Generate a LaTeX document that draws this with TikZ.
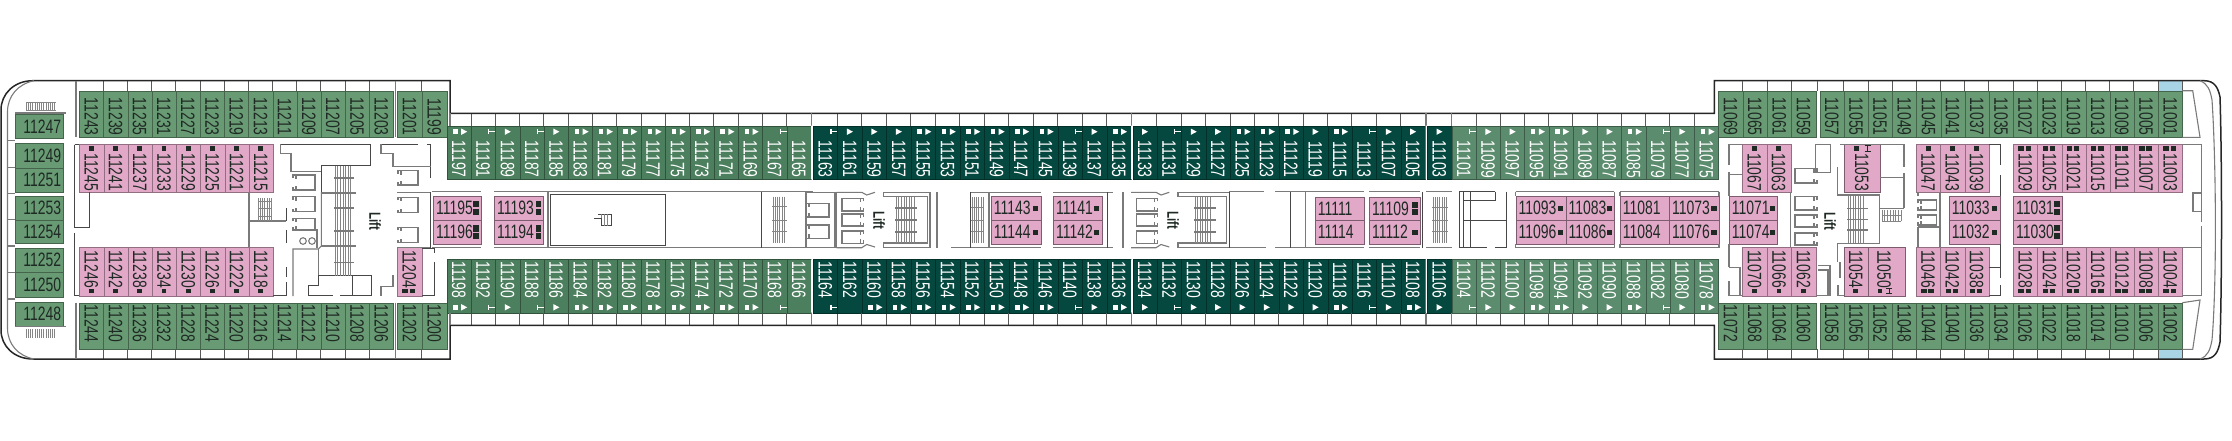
\documentclass[tikz,border=0pt]{standalone}
\usepackage{fontspec}
\setmainfont[FakeStretch=0.72]{Liberation Sans}
\definecolor{gA}{HTML}{689B74}
\definecolor{gB}{HTML}{4C7F5E}
\definecolor{gC}{HTML}{5C8C6E}
\definecolor{gD}{HTML}{04483F}
\definecolor{pk}{HTML}{E2A8C8}
\definecolor{bl}{HTML}{A9D4E6}
\definecolor{ink}{HTML}{1F2A24}
\tikzset{
 room/.style={draw=#1,line width=.45pt,inner sep=0pt,rectangle,anchor=north west},
 lab/.style={inner sep=0pt,font=\fontsize{9.7}{10}\selectfont},
 lift/.style={inner sep=0pt,font=\fontsize{8}{9}\selectfont\bfseries,text=ink,rotate=-90},
 wall/.style={draw=black!52,line width=.55pt},
 wallk/.style={draw=black!72,line width=.4pt},
 tick/.style={draw=black!65,line width=.45pt},
 hull/.style={draw=black!85,line width=.75pt},
 thin stair/.style={draw=black!48,line width=.3pt},
}
% row geometry: y top, y bottom, label y, symbol y, balcony tick from, to
\newcommand\setY[6]{\def\ya{#1}\def\yb{#2}\def\ly{#3}\def\sy{#4}\def\tya{#5}\def\tyb{#6}}
\newcommand\roomrow[5]{%
 \foreach \lab/\code [count=\n from 0] in {#5}{%
  \pgfmathsetmacro\xa{#1+\n*#2}\pgfmathsetmacro\xb{\xa+#2}\pgfmathsetmacro\xc{\xa+#2/2}%
  \pgfmathsetmacro\wpt{#2*0.5}\pgfmathsetmacro\hpt{(\yb-\ya)*0.5}%
  \ifnum\n>0\draw[tick] (\xa,\tya)--(\xa,\tyb);\fi
  \node[room=#3!65!black,fill=#3,minimum width=\wpt pt,minimum height=\hpt pt] (r\lab) at (\xa,\ya) {};
  \node[lab,rotate=-90,text=#4] (t\lab) at (\xc,\ly) {\lab};
  \if\code s%
   \fill[white] (\xa+6.5,\sy-2.4) rectangle (\xa+11,\sy+2.4);
   \fill[white] (\xa+14.5,\sy-3.2)--(\xa+20.5,\sy)--(\xa+14.5,\sy+3.2)--cycle;
  \fi
  \if\code t%
   \fill[white] (\xa+9.5,\sy-3.2)--(\xa+15.5,\sy)--(\xa+9.5,\sy+3.2)--cycle;
  \fi
  \if\code c%
   \draw[white,line width=.55pt] (\xb-6.5,\sy)--(\xb+6,\sy) (\xb-6.5,\sy-2.4)--(\xb-6.5,\sy+2.4) (\xb+6,\sy-2.4)--(\xb+6,\sy+2.4);
  \fi
  \if\code p%
   \fill[ink] (\xc-2.4,\sy-2.4) rectangle (\xc+2.4,\sy+2.4);
  \fi
  \if\code q%
   \fill[ink] (\xc-6.9,\sy-2.4) rectangle (\xc-1.4,\sy+2.4);
   \fill[ink] (\xc+0.3,\sy-2.4) rectangle (\xc+5.8,\sy+2.4);
  \fi
 }}
% horizontal room: name, x0, x1, y0, y1, square type
\newcommand\hroom[6]{%
 \pgfmathsetmacro\wpt{(#3-#2)*0.5}\pgfmathsetmacro\hpt{(#5-#4)*0.5}%
 \node[room=pk!55!black,fill=pk,minimum width=\wpt pt,minimum height=\hpt pt] (r#1) at (#2,#4) {};
 \node[lab,text=ink,anchor=west] (t#1) at (#2+2.4,{(#4+#5)/2}) {#1};
 \if#61\fill[ink] (#3-7.6,{(#4+#5)/2-2.5}) rectangle (#3-2.4,{(#4+#5)/2+2.5});\fi
 \if#62\fill[ink] (#3-7.6,{(#4+#5)/2-6.8}) rectangle (#3-2,{(#4+#5)/2-0.6});
  \fill[ink] (#3-7.6,{(#4+#5)/2+0.6}) rectangle (#3-2,{(#4+#5)/2+6.8});\fi
}
% left column room
\newcommand\lroom[3]{%
 \pgfmathsetmacro\hpt{(#3-#2)*0.5}%
 \node[room=gA!65!black,fill=gA,minimum width=24pt,minimum height=\hpt pt] (r#1) at (15.3,#2) {};
 \node[lab,text=ink,anchor=west] (t#1) at (23,{(#2+#3)/2}) {#1};
}
\newcommand\stair[5]{% x0 x1 y0 y1 step
 \pgfmathsetmacro\nn{int((#2-#1)/#5)}%
 \foreach \k in {0,...,\nn}{\draw[thin stair] ({#1+\k*#5},#3)--({#1+\k*#5},#4);}
}
% lift cell: open x, closed x, y0, y1
\newcommand\cell[4]{\pgfmathsetmacro\dd{#1<#2?3:-3}\draw[wall] (#1,#3+3)--(#1,#3)--(#2,#3)--(#2,#4)--(#1,#4)--(#1,#4-3);\draw[wall] (#1+\dd,#3)--(#1+\dd,#3+4) (#1+\dd,#4)--(#1+\dd,#4-4);}
\begin{document}
\begin{tikzpicture}[x=0.5pt,y=-0.5pt]
\useasboundingbox (0,0) rectangle (2232,440);
\fill[white] (0,0) rectangle (2232,440);

% blue balcony ends
\fill[bl] (2158.3,80.7) rectangle (2182.3,90.7);
\fill[bl] (2158.3,349.3) rectangle (2182.3,359);

% ---------- aft and forward outer cabins (top)
\setY{90.7}{137.3}{116.8}{0}{80.7}{90.7}
\roomrow{79.3}{24.15}{gA}{ink}{11243/n,11239/n,11235/n,11231/n,11227/n,11223/n,11219/n,11213/n,11211/n,11209/n,11207/n,11205/n,11203/n}
\roomrow{397}{24.85}{gA}{ink}{11201/n,11199/n}
\roomrow{1718.3}{24.35}{gA}{ink}{11069/n,11065/n,11061/n,11059/n}
\roomrow{1819.7}{24.17}{gA}{ink}{11057/n,11055/n,11051/n,11049/n,11045/n,11041/n,11037/n,11035/n,11027/n,11023/n,11019/n,11013/n,11009/n,11005/n,11001/n}
% ---------- bottom
\setY{302.7}{349.3}{323.5}{0}{349.3}{359}
\roomrow{79.3}{24.15}{gA}{ink}{11244/n,11240/n,11236/n,11232/n,11228/n,11224/n,11220/n,11216/n,11214/n,11212/n,11210/n,11208/n,11206/n}
\roomrow{397}{24.85}{gA}{ink}{11202/n,11200/n}
\roomrow{1718.3}{24.35}{gA}{ink}{11072/n,11068/n,11064/n,11060/n}
\roomrow{1819.7}{24.17}{gA}{ink}{11058/n,11056/n,11052/n,11048/n,11044/n,11040/n,11036/n,11034/n,11026/n,11022/n,11018/n,11014/n,11010/n,11006/n,11002/n}

% ---------- mid section, top
\setY{125.7}{179.3}{159.2}{131.7}{113.3}{125.7}
\roomrow{446.7}{24.29}{gB}{white}{11197/s,11191/c,11189/t,11187/c,11185/t,11183/s,11181/s,11179/s,11177/s,11175/s,11173/s,11171/s,11169/s,11167/c,11165/n}
\roomrow{813}{24.46}{gD}{white}{11163/c,11161/t,11159/t,11157/t,11155/s,11153/s,11151/s,11149/s,11147/s,11145/s,11139/c,11137/t,11135/s}
\roomrow{1132.5}{24.38}{gD}{white}{11133/t,11131/c,11129/t,11127/t,11125/s,11123/s,11121/s,11119/t,11115/s,11113/c,11107/t,11105/t}
\roomrow{1427}{24.7}{gD}{white}{11103/t}
\roomrow{1451.7}{24.24}{gC}{white}{11101/c,11099/t,11097/t,11095/s,11091/s,11089/t,11087/t,11085/s,11079/c,11077/t,11075/s}
% ---------- mid section, bottom
\setY{259.3}{312.7}{280}{307.3}{312.7}{325.3}
\roomrow{446.7}{24.29}{gB}{white}{11198/s,11192/c,11190/t,11188/c,11186/t,11184/s,11182/s,11180/s,11178/s,11176/s,11174/s,11172/s,11170/s,11168/c,11166/n}
\roomrow{813}{24.46}{gD}{white}{11164/c,11162/n,11160/s,11158/s,11156/s,11154/s,11152/s,11150/s,11148/s,11146/s,11140/c,11138/t,11136/s}
\roomrow{1132.5}{24.38}{gD}{white}{11134/t,11132/c,11130/t,11128/t,11126/t,11124/t,11122/t,11120/t,11118/s,11116/c,11110/t,11108/s}
\roomrow{1427}{24.7}{gD}{white}{11106/t}
\roomrow{1451.7}{24.24}{gC}{white}{11104/c,11102/t,11100/t,11098/s,11094/s,11092/t,11090/t,11088/s,11082/c,11080/t,11078/s}

% ---------- vertical pink rooms, top
\setY{144.3}{192.3}{172.3}{148.3}{0}{0}
\roomrow{79.3}{24.2}{pk}{ink}{11245/p,11241/p,11237/p,11233/p,11229/p,11225/p,11221/p,11215/p}
\roomrow{1742.3}{24.2}{pk}{ink}{11067/p,11063/p}
\roomrow{1916}{24.25}{pk}{ink}{11047/p,11043/p,11039/p}
\roomrow{2013.3}{24.14}{pk}{ink}{11029/q,11025/q,11021/q,11015/q,11011/q,11007/q,11003/q}
% ---------- vertical pink rooms, bottom
\setY{247.3}{295.7}{269}{291}{0}{0}
\roomrow{79.3}{24.2}{pk}{ink}{11246/p,11242/p,11238/p,11234/p,11230/p,11226/p,11222/p,11218/p}
\roomrow{397}{24.7}{pk}{ink}{11204/q}
\roomrow{1742.3}{24.45}{pk}{ink}{11070/p,11066/p,11062/p}
\roomrow{1916}{24.25}{pk}{ink}{11046/q,11042/q,11038/q}
\roomrow{2013.3}{24.14}{pk}{ink}{11028/q,11024/q,11020/q,11016/q,11012/q,11008/q,11004/q}

% 11053, 11054, 11050
\node[room=pk!55!black,fill=pk,minimum width=18pt,minimum height=24pt] (r11053) at (1843.7,144.3) {};
\node[lab,rotate=-90,text=ink] (t11053) at (1861.7,172.3) {11053};
\fill[ink] (1854.2,146.4) rectangle (1859,151.2);
\draw[ink,line width=.4pt] (1864.5,145.8)--(1870.5,145.8) (1864.5,151)--(1870.5,151) (1867.5,145.8)--(1867.5,151);
\node[room=pk!55!black,fill=pk,minimum width=12pt,minimum height=24.2pt] (r11054) at (1843.7,247.3) {};
\node[lab,rotate=-90,text=ink] (t11054) at (1855.7,269) {11054};
\fill[ink] (1853.3,288.6) rectangle (1858.1,293.4);
\node[room=pk!55!black,fill=pk,minimum width=18.5pt,minimum height=24.2pt] (r11050) at (1867.7,247.3) {};
\node[lab,rotate=-90,text=ink] (t11050) at (1884,269) {11050};
\fill[ink] (1877.6,288.6) rectangle (1882.4,293.4);
\draw[ink,line width=.4pt] (1886,288.3)--(1892,288.3) (1886,293.6)--(1892,293.6) (1889,288.3)--(1889,293.6);

% ---------- horizontal pink rooms
\hroom{11195}{433.3}{480.7}{196}{220}{2}\hroom{11196}{433.3}{480.7}{220}{244.3}{2}
\hroom{11193}{494.3}{543.3}{196}{220}{2}\hroom{11194}{494.3}{543.3}{220}{244.3}{2}
\hroom{11143}{991}{1040.7}{196}{220}{1}\hroom{11144}{991}{1040.7}{220}{244.3}{1}
\hroom{11141}{1053.3}{1101.7}{196}{220}{1}\hroom{11142}{1053.3}{1101.7}{220}{244.3}{1}
\hroom{11111}{1315}{1364.3}{196.7}{220}{0}\hroom{11114}{1315}{1364.3}{220}{244.3}{0}
\hroom{11109}{1369.3}{1420}{196.7}{220}{2}\hroom{11112}{1369.3}{1420}{220}{244.3}{1}
\hroom{11093}{1515.7}{1565.7}{196}{220}{1}\hroom{11096}{1515.7}{1565.7}{220}{244}{1}
\hroom{11083}{1565.7}{1614.3}{196}{220}{1}\hroom{11086}{1565.7}{1614.3}{220}{244}{1}
\hroom{11081}{1620}{1669.3}{196}{220}{0}\hroom{11084}{1620}{1669.3}{220}{244}{0}
\hroom{11073}{1669.3}{1719}{196}{220}{1}\hroom{11076}{1669.3}{1719}{220}{244}{1}
\hroom{11071}{1729}{1777.3}{196}{220}{1}\hroom{11074}{1729}{1777.3}{220}{244}{1}
\hroom{11033}{1949}{1999.7}{196}{220}{1}\hroom{11032}{1949}{1999.7}{220}{244}{1}
\hroom{11031}{2013.3}{2062}{196}{220}{2}\hroom{11030}{2013.3}{2062}{220}{244}{2}

% ---------- left column
\lroom{11247}{114.3}{138.3}
\lroom{11249}{143.3}{167.7}\lroom{11251}{167.7}{191.7}
\lroom{11253}{196}{219.7}\lroom{11254}{219.7}{243.3}
\lroom{11252}{248.3}{272.3}\lroom{11250}{272.3}{296.7}
\lroom{11248}{302.3}{325.7}

% ---------- hull
\draw[hull] (33,80.7)--(450,80.7)--(450,113.3)--(1714.3,113.3)--(1714.3,80.7)--(2204,80.7)
  .. controls (2215,80.7) and (2218,88) .. (2220,97)
  .. controls (2222,160) and (2222,280) .. (2220,342)
  .. controls (2218,352) and (2215,359) .. (2204,359)
  --(1714.3,359)--(1714.3,325.3)--(450,325.3)--(450,359)--(33,359)
  .. controls (14,359) and (1,346) .. (1,330)--(1,110)
  .. controls (1,94) and (14,80.7) .. (33,80.7)--cycle;
\draw[wall] (2200,80.7) .. controls (2208,84) and (2210,90) .. (2212,100) .. controls (2216,160) and (2217,280) .. (2212,340) .. controls (2210,350) and (2208,356) .. (2200,359);
\draw[wall] (34,80.7) .. controls (18,84) and (7.5,96) .. (7.5,112)--(7.5,328) .. controls (7.5,344) and (18,356) .. (34,359);
% balcony dividers at the gaps
\foreach \tx in {76,395.5}{\draw[wall] (\tx,80.7)--(\tx,137.3);\draw[wall] (\tx,302.7)--(\tx,359);}
\foreach \tx in {450,811.7,1131.5,1426,1451.7}{\draw[wall] (\tx,113.3)--(\tx,125.7);\draw[wall] (\tx,312.7)--(\tx,325.3);}
\foreach \tx in {1742.7,1817.7,2182.3}{\draw[tick] (\tx,80.7)--(\tx,90.7);\draw[tick] (\tx,349.3)--(\tx,359);}
\fill[white] (811.2,125.7) rectangle (812.6,179.3) (811.2,259.3) rectangle (812.6,312.7);
\fill[white] (1131,125.7) rectangle (1132.2,179.3) (1131,259.3) rectangle (1132.2,312.7);
\fill[white] (1425.6,125.7) rectangle (1426.8,179.3) (1425.6,259.3) rectangle (1426.8,312.7);

% ---------- left end walls
\stair{26}{56}{102.3}{110.7}{2.2}\draw[thin stair] (26,102.3)--(56,102.3) (26,110.7)--(56,110.7);
\stair{26}{55}{329}{337.7}{2.2}
\draw[wall] (15.3,113)--(66,113) (15.3,326.5)--(66,326.5);
\foreach \ty in {140.7,167.7,193.3,219.7,246,272.3,299}{\draw[wall] (7.5,\ty)--(15.3,\ty);}
\draw[wallk] (74.7,144.5)--(79.3,144.5) (74.7,144.5)--(74.7,227)--(89,227)--(89,192.3);
\draw[wallk] (74.7,233)--(74.7,295.7)--(79.3,295.7);
\draw[wall] (249,192.3)--(249,247.3) (249,221)--(286,221);

% ---------- aft lift
\draw[wallk] (280.3,144.3)--(370.7,144.3)--(370.7,165.3)--(321.3,165.3)--(321.3,192);
\draw[wall] (280.3,144.3)--(280.3,153.3)--(291,153.3)--(291,171.7)--(321.3,171.7);
\draw[wall] (321.3,192)--(321.3,246)--(318.3,249)--(293,249)--(293,296);
\draw[wall] (318.3,249)--(318.3,275.7);
\draw[wallk] (318.3,275.7)--(371,275.7)--(371,295.7) (352.3,275.7)--(352.3,295.7) (318.3,275.7)--(318.3,285)--(308.3,285)--(308.3,295.7);
\draw[wallk] (308.3,295.7)--(333,295.7) (340,295.7)--(371,295.7) (273,295.7)--(286,295.7) (286,230)--(286,243) (286,267)--(286,277) (286,282)--(286,295.7) (286,208)--(286,221);
\cell{293}{315}{175}{190}\cell{293}{315}{196.7}{211.7}\cell{293}{315}{218.3}{230}
\draw[wall] (293,230)--(317,230)--(317,248);
\draw[wall] (303,241) circle (3.3) (312,241) circle (3.3);
\stair{258}{272}{198}{221}{2.2}\draw[thin stair] (258,201)--(272,201) (258,208)--(272,208) (258,216)--(272,216);
\stair{335}{353}{166}{276}{2.6}
\foreach \ty in {177.7,208,230.7,262.3}{\draw[wall,line width=.8pt] (334,\ty)--(354,\ty);}
\foreach \ty in {193,245.7}{\draw[wall,line width=1pt] (321.3,\ty)--(356,\ty);}
\node[lift] (liftA) at (375,221) {Lift};
\draw[wallk] (381,144.3)--(418,144.3) (427,144.3)--(430.7,144.3)--(430.7,178);
\draw[wall] (381,144.3)--(381,153.3)--(393,153.3)--(393,166.7)--(430.7,166.7);
\draw[wall] (381,295.7)--(381,286.7)--(393,286.7)--(393,275);
\cell{398}{418}{170.7}{185}\cell{398}{418}{197.3}{212.7}\cell{398}{418}{227.3}{242.7}
\draw[wall] (397,192.3)--(430.7,192.3) (397,247.7)--(430.7,247.7);
\draw[wallk] (430.7,192.3)--(430.7,247.7);
\draw[wallk] (421.7,248)--(434.3,248)--(434.3,253) (434.3,262)--(434.3,295)--(421.7,295);

% ---------- corridor, aft mid
\draw[wall] (431.7,191.7)--(480.7,191.7) (494.3,191.7)--(813,191.7);
\draw[wall] (431.7,247.7)--(480.7,247.7) (494.3,247.7)--(813,247.7);
\draw[wall] (548,191.7)--(548,247.7);
\draw[wallk] (550.3,194.3) rectangle (665.7,245.3);
\draw[wallk] (761.7,191.7)--(761.7,247.7);
\stair{773}{786}{196.7}{243}{2.2}
\foreach \ty in {206,220,231}{\draw[thin stair] (772,\ty)--(787,\ty);}
\draw[wallk] (598,214)--(611,214)--(611,225.7)--(601,225.7)--(601,218)--(594,218);
\draw[thin stair] (601,214)--(601,218) (604,214)--(604,225.7) (607,214)--(607,225.7);

% ---------- lift block 1
\draw[wall] (806,192.3)--(835,192.3) (806,247.7)--(835,247.7) (806,192.3)--(806,247.7);
\draw[wall] (835,192.3)--(835,247.7) (836.7,192.3)--(836.7,247.7);
\cell{806}{829}{203.3}{217}\cell{806}{829}{225}{238.3}
\foreach \dx in {0,294.3}{
 \begin{scope}[shift={(\dx,0)}]
 \cell{863.3}{842}{198.3}{211}\cell{863.3}{842}{214}{226}\cell{863.3}{842}{231}{243.3}
 \draw[wall] (836.7,192.3)--(861.7,192.3)--(866.7,195)--(875,192.3) (836.7,247.7)--(861.7,247.7)--(866.7,244.5)--(875,247);
 \end{scope}
}
\node[lift] (liftB) at (879,220.5) {Lift};
\draw[wall] (883.3,192.3)--(930,192.3) (883.3,196.7)--(927.7,196.7)--(927.7,243)--(883.3,243)--(883.3,247.7)--(930,247.7);
\draw[wall] (883.3,192.3)--(883.3,196.7) (930,192.3)--(930,247.7) (937,192.3)--(937,247.7);
\stair{896}{916}{196.7}{243}{2.6}
\foreach \ty in {207.7,220,231.7}{\draw[wall,line width=.8pt] (895,\ty)--(917,\ty);}
\draw[wall] (951,247.7)--(1040.7,247.7) (970.3,192.3)--(1040.7,192.3) (1053.3,192.3)--(1113,192.3) (1053.3,247.7)--(1113,247.7);
\draw[wallk] (970.3,192.3)--(970.3,247.7) (1107,192.3)--(1107,247.7);
\draw[wall] (989,192.3)--(989,247.7) (1123,192.3)--(1123,247.7);
\stair{972}{983}{197}{243}{2.2}
\foreach \ty in {207,220,231}{\draw[thin stair] (971,\ty)--(984,\ty);}

% ---------- lift block 2
\node[lift] (liftC) at (1173,220.5) {Lift};
\draw[wall] (1178,192.3)--(1229,192.3) (1178,196.7)--(1226.7,196.7)--(1226.7,243)--(1178,243)--(1178,247.7)--(1266,247.7);
\draw[wall] (1178,192.3)--(1178,196.7);
\draw[wallk] (1229.3,192.3)--(1229.3,247.7);
\stair{1195}{1212}{196.7}{243}{2.5}
\foreach \ty in {207.7,220,231.7}{\draw[wall,line width=.8pt] (1194,\ty)--(1216,\ty);}
\draw[wall] (1229,191.7)--(1264,191.7) (1275,247.7)--(1364.3,247.7) (1275,191.7)--(1364.3,191.7);
\draw[wallk] (1290,191.7)--(1290,247.7);
\draw[wall] (1305.7,191.7)--(1305.7,247.7);
\draw[wall] (1369.3,191.7)--(1420,191.7) (1369.3,247.7)--(1420,247.7);
\draw[wallk] (1422.7,191.7)--(1422.7,247.7);
\stair{1433}{1447}{197}{243}{2.2}
\foreach \ty in {207,220,231}{\draw[thin stair] (1432,\ty)--(1448,\ty);}
\draw[wall] (1426,191.7)--(1452,191.7) (1426,247.7)--(1452,247.7);
\draw[wallk] (1459,191.7)--(1459,247.7) (1463,191.7)--(1463,247.7) (1470.7,191.7)--(1470.7,247.7);
\draw[wallk] (1459,191.7)--(1495,191.7) (1495,191.7)--(1495,200)--(1463,200) (1463,220)--(1506.7,220) (1506.7,191.7)--(1506.7,247.7) (1459,247.7)--(1487,247.7) (1495,247.7)--(1506.7,247.7);
\draw[wall] (1515.7,191.7)--(1614.3,191.7) (1515.7,247.7)--(1614.3,247.7) (1620,191.7)--(1719,191.7) (1620,247.7)--(1719,247.7);
\draw[wall] (1515.7,191.7)--(1515.7,196) (1515.7,244)--(1515.7,247.7) (1614.3,191.7)--(1614.3,196) (1614.3,244)--(1614.3,247.7) (1620,191.7)--(1620,196) (1620,244)--(1620,247.7) (1719,191.7)--(1719,196) (1719,244)--(1719,247.7);

% ---------- forward lift
\draw[wall] (1729,144.3)--(1729,165) (1729,172)--(1729,192.3) (1729,144.3)--(1742.3,144.3) (1729,174.3)--(1742.3,174.3) (1729,192.3)--(1729,196);
\draw[wall] (1729,244)--(1729,267.3) (1729,267.3)--(1740,267.3)--(1740,295.7) (1729,281)--(1729,295.7)--(1742.3,295.7);
\draw[wall] (1790.7,192.3)--(1790.7,247.3);
\draw[wall] (1815.7,144.3)--(1830.3,144.3)--(1830.3,172.3)--(1815.7,172.3)--(1815.7,144.3);
\cell{1817}{1795}{168.5}{183}\cell{1817}{1795}{196.7}{210}\cell{1817}{1795}{215}{227}\cell{1817}{1795}{233}{245}
\node[lift] (liftD) at (1830,221) {Lift};
\draw[wall] (1818,265.7)--(1830,265.7)--(1830,295.7) (1818,270)--(1828,270)--(1828,295) (1815.7,295.7)--(1830,295.7);
\draw[wall] (1840,144.3)--(1904,144.3)--(1904,167) (1904,173)--(1904,208) (1879.7,177.3)--(1904,177.3);
\draw[wall] (1837.7,167)--(1837.7,195)--(1879.3,195)--(1879.3,243.3)--(1837.7,243.3)--(1837.7,262) (1840,262)--(1840,278) (1838,285)--(1838,295.7)--(1843.7,295.7);
\stair{1848}{1865}{195.7}{242.7}{2.5}
\foreach \ty in {208.3,219.3,230}{\draw[wall,line width=.8pt] (1847,\ty)--(1868,\ty);}
\draw[wall] (1880,208.3)--(1904,208.3);
\stair{1882}{1901}{210}{221}{2.7}\draw[thin stair] (1882,215)--(1901,215) (1882,221)--(1901,221);
\draw[wall] (1940,193.3)--(1940,247.3) (1918,192.3)--(1918,196) (1918,227)--(1918,247.3) (1918,227)--(1940,227);
\cell{1918}{1936.7}{200}{210}\cell{1918}{1936.7}{215}{225}
\draw[wallk] (1988.7,144.3)--(2000,144.3)--(2000,165) (2000,175)--(2000,196) (2000,244)--(2000,278) (2000,285)--(2000,295.7)--(1988.7,295.7) (1988.7,267.3)--(2000,267.3);

% ---------- bow walls
\draw[wall] (2182.3,90.7)--(2192.7,90.7)--(2200,137.3)--(2182.3,137.3);
\draw[wall] (2182.3,349.3)--(2192.7,349.3)--(2200,300)--(2182.3,302.7);
\draw[wall] (2182.3,144.3)--(2201.7,144.3)--(2201.7,193)--(2193,193)--(2193,211.7)--(2201.7,211.7);
\draw[wall] (2201.7,193)--(2201.7,222) (2201.7,226)--(2201.7,247.3)--(2182.3,247.3) (2201.7,247.3)--(2201.7,295.7)--(2182.3,295.7);
\end{tikzpicture}
\end{document}
